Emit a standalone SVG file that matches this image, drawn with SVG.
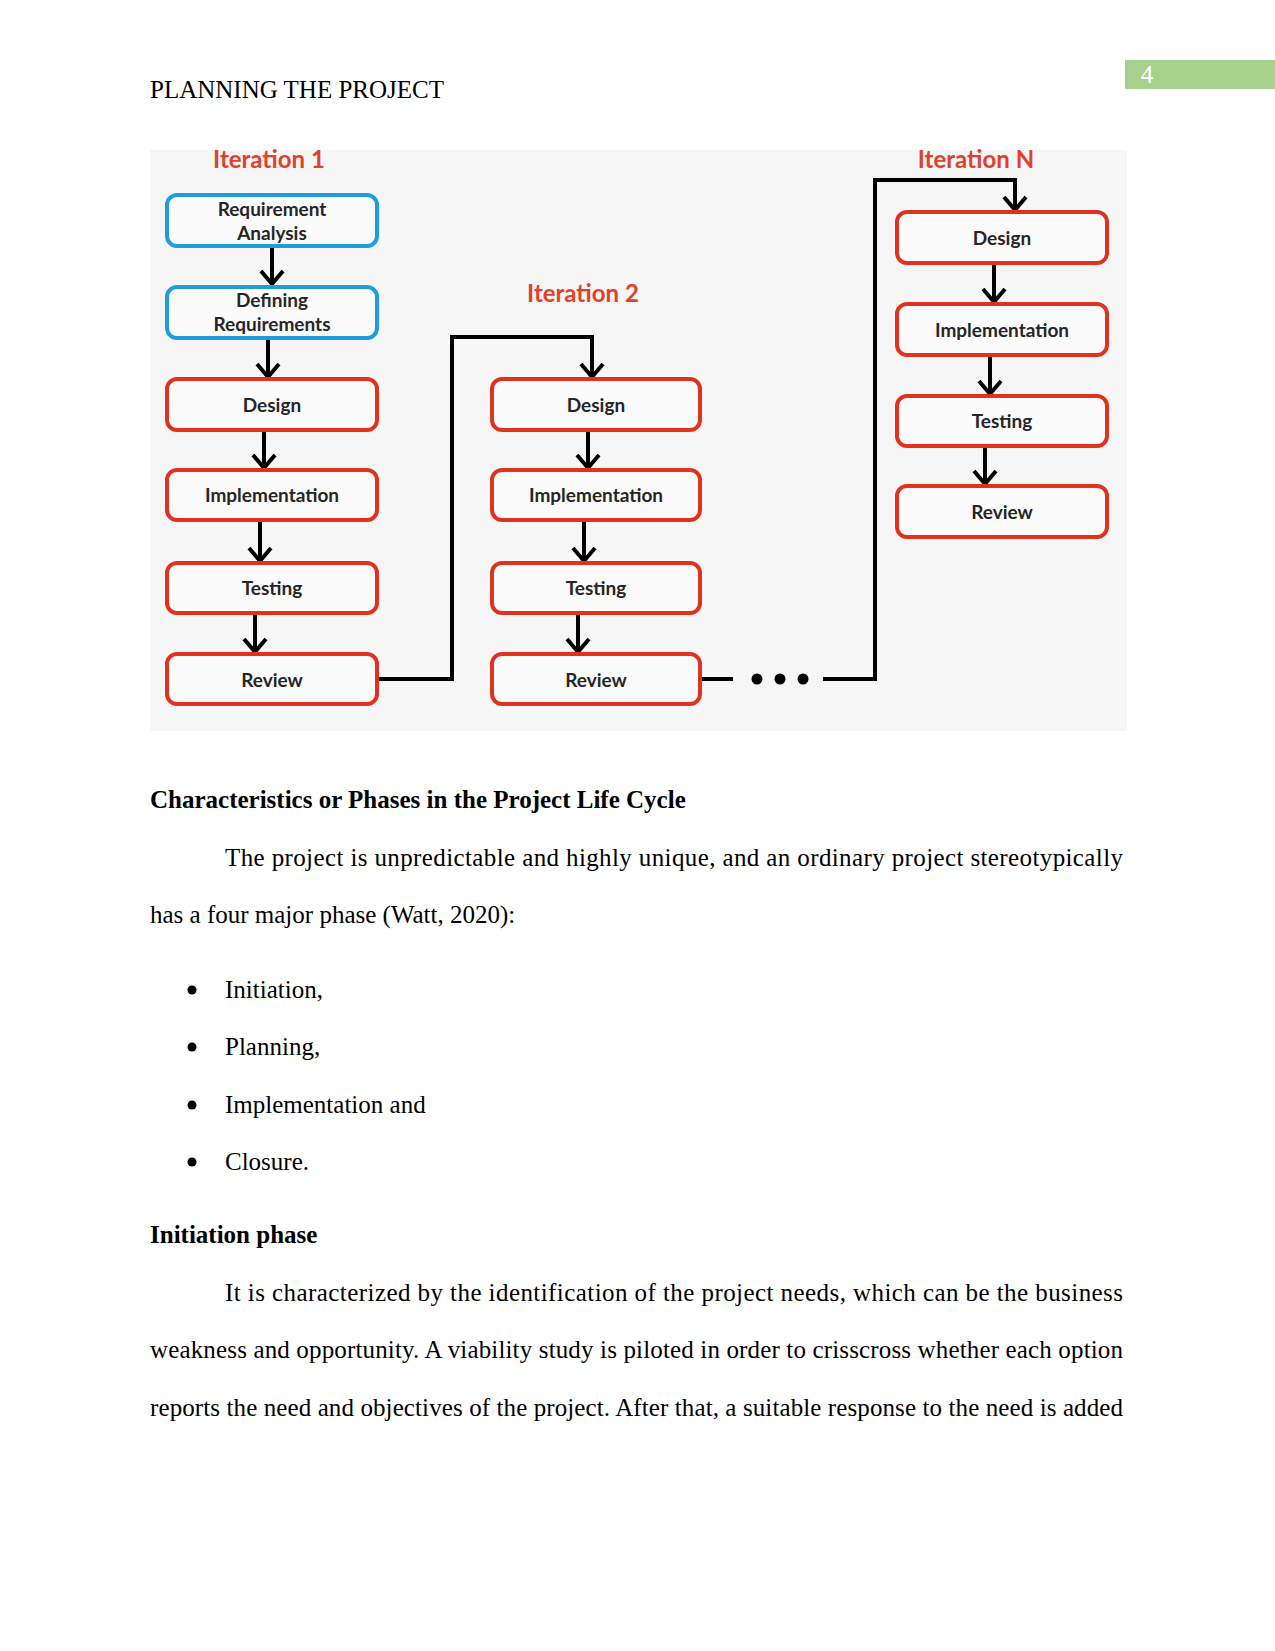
<svg xmlns="http://www.w3.org/2000/svg" width="1275" height="1651" viewBox="0 0 1275 1651">
<defs>
<style>
.page{fill:#ffffff}
.body{font-family:"Liberation Serif","Times New Roman",serif;font-size:25px;fill:#000}
.bold{font-weight:bold}
.iter{font-family:Lato,"Open Sans",sans-serif;font-weight:bold;font-size:24px;fill:#e2402a}
.lbl{font-family:Lato,"Open Sans",sans-serif;font-weight:bold;font-size:19px;fill:#262626;text-anchor:middle}
.red{fill:#fbfbfb;stroke:#e0321f;stroke-width:4}
.blue{fill:#fbfbfb;stroke:#1d9ddb;stroke-width:4}
.conn{fill:none;stroke:#000;stroke-width:4}
</style>
</defs>
<rect class="page" x="0" y="0" width="1275" height="1651"/>
<!-- header -->
<text class="body" x="150" y="98">PLANNING THE PROJECT</text>
<rect x="1125" y="60" width="150" height="29" fill="#a8d08d"/>
<text x="1147" y="83" font-family="Liberation Serif, serif" font-size="25" fill="#ffffff" text-anchor="middle">4</text>

<!-- diagram background -->
<rect x="150" y="150" width="977" height="581" fill="#f6f6f6"/>

<text class="iter" x="269" y="168" text-anchor="middle">Iteration 1</text>
<text class="iter" x="583" y="302" text-anchor="middle">Iteration 2</text>
<text class="iter" x="976" y="168" text-anchor="middle">Iteration N</text>

<g id="connectors">
<path class="conn" d="M272 246 V284 M261 271 L272 284 L283 271"/>
<path class="conn" d="M268 338 V377 M257 364 L268 377 L279 364"/>
<path class="conn" d="M264 430 V468 M253 455 L264 468 L275 455"/>
<path class="conn" d="M260 520 V561 M249 548 L260 561 L271 548"/>
<path class="conn" d="M255 613 V652 M244 639 L255 652 L266 639"/>
<path class="conn" d="M377 679 H452 V337 H592 V377 M581 364 L592 377 L603 364"/>
<path class="conn" d="M588 430 V468 M577 455 L588 468 L599 455"/>
<path class="conn" d="M584 520 V561 M573 548 L584 561 L595 548"/>
<path class="conn" d="M578 613 V652 M567 639 L578 652 L589 639"/>
<path class="conn" d="M700 679 H733"/>
<circle cx="757" cy="679" r="5.5" fill="#000"/>
<circle cx="780" cy="679" r="5.5" fill="#000"/>
<circle cx="803" cy="679" r="5.5" fill="#000"/>
<path class="conn" d="M823 679 H875 V180 H1015 V210 M1004 197 L1015 210 L1026 197"/>
<path class="conn" d="M994 263 V302 M983 289 L994 302 L1005 289"/>
<path class="conn" d="M990 355 V394 M979 381 L990 394 L1001 381"/>
<path class="conn" d="M985 446 V484 M974 471 L985 484 L996 471"/>
</g>

<g id="n-req-analysis"><rect class="blue" x="167" y="195" width="210" height="51" rx="10"/><text class="lbl" x="272" y="216">Requirement</text><text class="lbl" x="272" y="240">Analysis</text></g>
<g id="n-def-req"><rect class="blue" x="167" y="287" width="210" height="51" rx="10"/><text class="lbl" x="272" y="307">Defining</text><text class="lbl" x="272" y="331">Requirements</text></g>
<g id="n-design1"><rect class="red" x="167" y="379" width="210" height="51" rx="10"/><text class="lbl" x="272" y="412">Design</text></g>
<g id="n-impl1"><rect class="red" x="167" y="470" width="210" height="50" rx="10"/><text class="lbl" x="272" y="502">Implementation</text></g>
<g id="n-test1"><rect class="red" x="167" y="563" width="210" height="50" rx="10"/><text class="lbl" x="272" y="595">Testing</text></g>
<g id="n-review1"><rect class="red" x="167" y="654" width="210" height="50" rx="10"/><text class="lbl" x="272" y="687">Review</text></g>

<g id="n-design2"><rect class="red" x="492" y="379" width="208" height="51" rx="10"/><text class="lbl" x="596" y="412">Design</text></g>
<g id="n-impl2"><rect class="red" x="492" y="470" width="208" height="50" rx="10"/><text class="lbl" x="596" y="502">Implementation</text></g>
<g id="n-test2"><rect class="red" x="492" y="563" width="208" height="50" rx="10"/><text class="lbl" x="596" y="595">Testing</text></g>
<g id="n-review2"><rect class="red" x="492" y="654" width="208" height="50" rx="10"/><text class="lbl" x="596" y="687">Review</text></g>

<g id="n-designN"><rect class="red" x="897" y="212" width="210" height="51" rx="10"/><text class="lbl" x="1002" y="245">Design</text></g>
<g id="n-implN"><rect class="red" x="897" y="304" width="210" height="51" rx="10"/><text class="lbl" x="1002" y="337">Implementation</text></g>
<g id="n-testN"><rect class="red" x="897" y="396" width="210" height="50" rx="10"/><text class="lbl" x="1002" y="428">Testing</text></g>
<g id="n-reviewN"><rect class="red" x="897" y="486" width="210" height="51" rx="10"/><text class="lbl" x="1002" y="519">Review</text></g>

<!-- body text -->
<text class="body bold" x="150" y="808">Characteristics or Phases in the Project Life Cycle</text>
<text class="body" x="225" y="866" textLength="898" lengthAdjust="spacing">The project is unpredictable and highly unique, and an ordinary project stereotypically</text>
<text class="body" x="150" y="923">has a four major phase (Watt, 2020):</text>

<circle cx="192" cy="990" r="4.5" fill="#000"/>
<text class="body" x="225" y="998">Initiation,</text>
<circle cx="192" cy="1047" r="4.5" fill="#000"/>
<text class="body" x="225" y="1055">Planning,</text>
<circle cx="192" cy="1105" r="4.5" fill="#000"/>
<text class="body" x="225" y="1113">Implementation and</text>
<circle cx="192" cy="1162" r="4.5" fill="#000"/>
<text class="body" x="225" y="1170">Closure.</text>

<text class="body bold" x="150" y="1243">Initiation phase</text>
<text class="body" x="225" y="1301" textLength="898" lengthAdjust="spacing">It is characterized by the identification of the project needs, which can be the business</text>
<text class="body" x="150" y="1358" textLength="973" lengthAdjust="spacing">weakness and opportunity. A viability study is piloted in order to crisscross whether each option</text>
<text class="body" x="150" y="1416" textLength="973" lengthAdjust="spacing">reports the need and objectives of the project. After that, a suitable response to the need is added</text>
</svg>
